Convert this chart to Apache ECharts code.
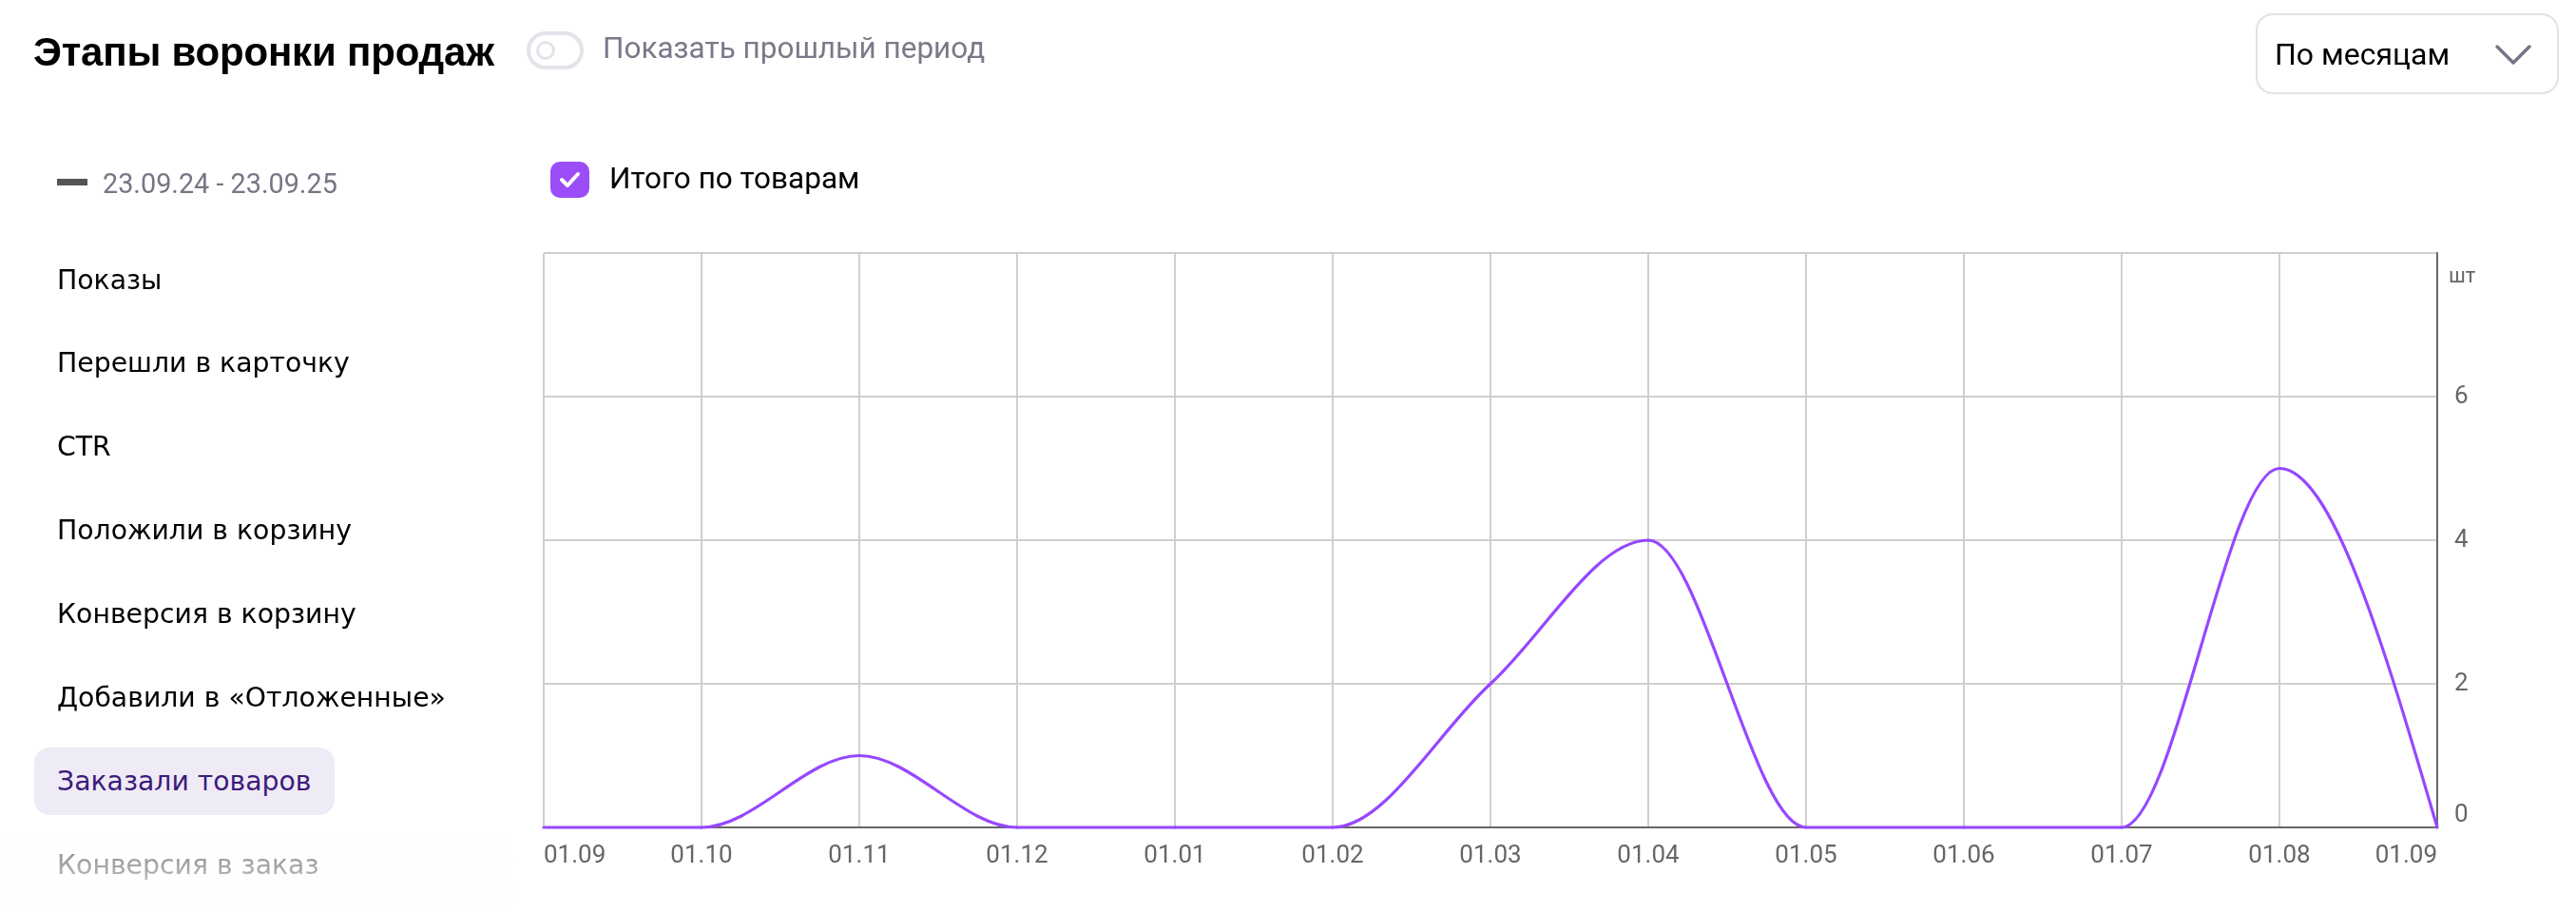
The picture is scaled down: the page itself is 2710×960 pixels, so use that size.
<!DOCTYPE html>
<html>
<head>
<meta charset="utf-8">
<script src="https://cdn.jsdelivr.net/npm/echarts@6/dist/echarts.min.js"></script>
<style>
  html, body { margin:0; padding:0; background:#fff; }
  body { width:2710px; height:960px; position:relative; overflow:hidden; }
  #chart { position:absolute; left:0; top:0; width:2710px; height:960px; }
  .ui { position:absolute; white-space:nowrap; line-height:1; }
  #title { left:35px; top:31px; font:bold 42px "Liberation Sans", Arial, sans-serif; color:#000; letter-spacing:-0.2px; }
  #toggle { left:554px; top:33px; width:52px; height:32px; border:4px solid #e4e3ea; border-radius:20px; }
  #toggle .knob { position:absolute; left:6px; top:6px; width:14px; height:14px; border:3px solid #e4e3ea; border-radius:50%; }
  #prev { left:634px; top:32px; font:31.5px Roboto, sans-serif; color:#7b7889; }
  #period { left:2373px; top:14px; width:315px; height:81px; border:2px solid #e2e1e8; border-radius:18px; }
  #periodText { left:2393px; top:38px; font:32px Roboto, sans-serif; color:#000; }
  #chev { left:2624px; top:44px; }
  #dash { left:60px; top:188px; width:32px; height:7px; background:#555; }
  #range { left:108px; top:176px; font:28.8px Roboto, sans-serif; color:#787584; }
  #check { left:579px; top:170px; width:41px; height:38px; border-radius:10px; background:#9b4df7; }
  #check svg { position:absolute; left:9px; top:9px; }
  #total { left:641px; top:169px; font:31.5px Roboto, sans-serif; color:#000; }
  .item { position:absolute; left:60px; font:28.3px "DejaVu Sans", sans-serif; color:#000; line-height:1; white-space:nowrap; }
  #hl { left:36px; top:786px; width:316px; height:71px; border-radius:16px; background:#eeebf6; }
  #fade { left:0; top:880px; width:540px; height:80px; background:linear-gradient(to bottom, rgba(255,255,255,0.15), rgba(255,255,255,0.85)); }
</style>
</head>
<body>
<div id="chart"></div>
<div class="ui" id="title">Этапы воронки продаж</div>
<div class="ui" id="toggle"><div class="knob"></div></div>
<div class="ui" id="prev">Показать прошлый период</div>
<div class="ui" id="period"></div>
<div class="ui" id="periodText">По месяцам</div>
<div class="ui" id="chev"><svg width="42" height="28" viewBox="0 0 42 28"><polyline points="3,5 20,22 37,5" fill="none" stroke="#77738a" stroke-width="3.5" stroke-linecap="round" stroke-linejoin="round"/></svg></div>
<div class="ui" id="dash"></div>
<div class="ui" id="range">23.09.24 - 23.09.25</div>
<div class="ui" id="check"><svg width="23" height="20" viewBox="0 0 23 20"><polyline points="3,10 9,16 20,4" fill="none" stroke="#fff" stroke-width="4" stroke-linecap="round" stroke-linejoin="round"/></svg></div>
<div class="ui" id="total">Итого по товарам</div>
<div class="ui" id="hl"></div>
<div id="list"></div>
<div class="ui" id="fade"></div>
<script>
// ---- data ----
const months = ['01.09','01.10','01.11','01.12','01.01','01.02','01.03','01.04','01.05','01.06','01.07','01.08','01.09'];
const ordered = [0, 0, 1, 0, 0, 0, 2, 4, 0, 0, 0, 5, 0];
const yTicks = [0, 2, 4, 6, 8];
const stages = ['Показы','Перешли в карточку','CTR','Положили в корзину','Конверсия в корзину','Добавили в «Отложенные»','Заказали товаров','Конверсия в заказ'];
const activeStage = 6;

// ---- side list ----
const list = document.getElementById('list');
const centers = [296, 383, 471, 559, 647, 735, 823, 911];
stages.forEach((s, i) => {
  const d = document.createElement('div');
  d.className = 'item';
  d.textContent = s;
  d.style.top = (centers[i] - 15) + 'px';
  if (i === activeStage) d.style.color = '#3d1a7a';
  if (i === stages.length - 1) d.style.color = '#666';
  list.appendChild(d);
});

// ---- monotone cubic tangents (per category step) ----
function tangents(v) {
  const n = v.length, t = new Array(n).fill(0);
  const sign = x => (x > 0) - (x < 0);
  for (let i = 1; i < n - 1; i++) {
    const s0 = v[i] - v[i-1], s1 = v[i+1] - v[i], p = (s0 + s1) / 2;
    t[i] = (sign(s0) + sign(s1)) * Math.min(Math.abs(s0), Math.abs(s1), 0.5 * Math.abs(p)) || 0;
  }
  t[0] = (3 * (v[1] - v[0]) - t[1]) / 2;
  t[n-1] = (3 * (v[n-1] - v[n-2]) - t[n-2]) / 2;
  return t;
}
const tan = tangents(ordered);

const chart = echarts.init(document.getElementById('chart'));
chart.setOption({
  animation: false,
  backgroundColor: '#fff',
  grid: { left: 572, right: 146, top: 266, bottom: 90 },
  xAxis: {
    type: 'category',
    data: months,
    boundaryGap: false,
    axisLine: { show: true, lineStyle: { color: '#666', width: 2 } },
    axisTick: { show: false },
    axisLabel: { color: '#666', fontSize: 26, fontFamily: 'Roboto', margin: 17, interval: 0,
                 alignMinLabel: 'left', alignMaxLabel: 'right' },
    splitLine: { show: true, lineStyle: { color: '#cfcfcf', width: 2 } }
  },
  yAxis: {
    type: 'value',
    position: 'right',
    min: yTicks[0], max: yTicks[yTicks.length - 1], interval: 2,
    name: 'шт',
    nameLocation: 'end',
    nameGap: -14,
    nameTextStyle: { color: '#666', fontSize: 22, fontFamily: 'Roboto', align: 'left', verticalAlign: 'top', padding: [0, 0, 0, 12] },
    axisLine: { show: true, lineStyle: { color: '#666', width: 2 } },
    axisTick: { show: false },
    axisLabel: { color: '#666', fontSize: 26, fontFamily: 'Roboto', margin: 18, showMaxLabel: false,
                 verticalAlignMinLabel: 'bottom' },
    splitLine: { show: true, lineStyle: { color: '#cfcfcf', width: 2 } }
  },
  series: [{
    type: 'custom',
    name: 'Итого по товарам',
    data: ordered.map((v, i) => [i, v]),
    clip: false,
    z: 5,
    renderItem: function (params, api) {
      const i = params.dataIndex;
      if (i >= ordered.length - 1) return { type: 'group', children: [] };
      const p0 = api.coord([i, api.value(1)]);
      const p1 = api.coord([i + 1, ordered[i + 1]]);
      const unit = api.coord([i, 1])[1] - api.coord([i, 0])[1];
      const dx = (p1[0] - p0[0]) / 3;
      return {
        type: 'bezierCurve',
        shape: {
          x1: p0[0], y1: p0[1], x2: p1[0], y2: p1[1],
          cpx1: p0[0] + dx, cpy1: p0[1] + tan[i] * unit / 3,
          cpx2: p1[0] - dx, cpy2: p1[1] - tan[i + 1] * unit / 3
        },
        style: { stroke: '#9747ff', lineWidth: 3.2, fill: null, lineCap: 'round' }
      };
    }
  }]
});
</script>
</body>
</html>
